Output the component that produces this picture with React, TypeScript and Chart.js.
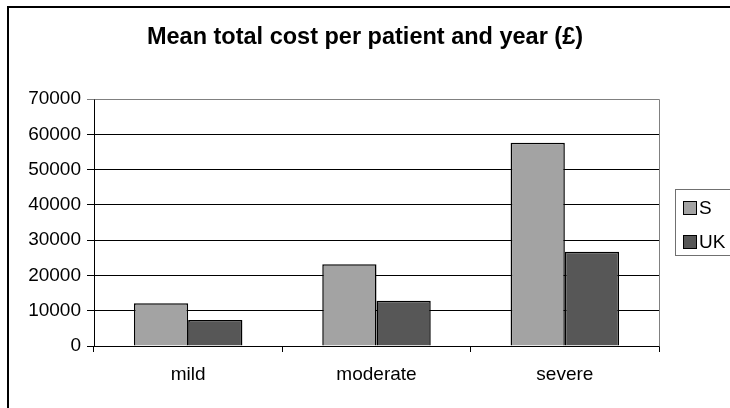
import React, { useEffect, useRef } from "react";
import { Chart, registerables } from "chart.js";

Chart.register(...registerables);

const categories = ["mild", "moderate", "severe"];
const seriesNames = ["S", "UK"];
const sValues = [12100, 23200, 57600];
const ukValues = [7400, 12800, 26700];
const yMax = 70000;
const yStep = 10000;
const titleText = "Mean total cost per patient and year (£)";

const FONT = "'Liberation Sans', Arial, sans-serif";

const decorPlugin = {
  id: "decor",
  beforeDraw(chart: any) {
    const { ctx } = chart;
    ctx.save();
    ctx.fillStyle = "#fff";
    ctx.fillRect(0, 0, chart.width, chart.height);
    ctx.strokeStyle = "#000";
    ctx.lineWidth = 2;
    ctx.strokeRect(8, 7, chart.width + 40, chart.height + 40);
    ctx.restore();
  },
  beforeDatasetsDraw(chart: any) {
    const { ctx, chartArea } = chart;
    ctx.save();
    ctx.strokeStyle = "#808080";
    ctx.lineWidth = 1;
    ctx.beginPath();
    ctx.moveTo(Math.round(chartArea.left) + 0.5, Math.round(chartArea.top) + 0.5);
    ctx.lineTo(Math.round(chartArea.right) + 0.5, Math.round(chartArea.top) + 0.5);
    ctx.lineTo(Math.round(chartArea.right) + 0.5, Math.round(chartArea.bottom) + 0.5);
    ctx.stroke();
    ctx.restore();
  },
  afterDraw(chart: any) {
    const { ctx } = chart;
    ctx.save();
    // title
    ctx.fillStyle = "#000";
    ctx.font = `bold 23.5px ${FONT}`;
    ctx.textAlign = "center";
    ctx.textBaseline = "alphabetic";
    ctx.fillText(titleText, chart.width / 2, 44);
    // legend
    const lx = 675.5;
    const ly = 189.5;
    ctx.strokeStyle = "#707070";
    ctx.lineWidth = 1;
    ctx.strokeRect(lx, ly, 80, 66);
    ctx.font = `19px ${FONT}`;
    ctx.textAlign = "left";
    ctx.textBaseline = "middle";
    chart.data.datasets.forEach((ds: any, i: number) => {
      const sy = 201.5 + i * 34;
      ctx.fillStyle = ds.backgroundColor;
      ctx.fillRect(683.5, sy, 13, 13);
      ctx.strokeStyle = "#000";
      ctx.strokeRect(683.5, sy, 13, 13);
      ctx.fillStyle = "#000";
      ctx.fillText(ds.label, 699, sy + 7);
    });
    ctx.restore();
  },
};

export default function App() {
  const ref = useRef<HTMLCanvasElement | null>(null);
  useEffect(() => {
    if (!ref.current) return;
    const chart = new Chart(ref.current, {
      type: "bar",
      data: {
        labels: categories,
        datasets: [
          {
            label: seriesNames[0],
            data: sValues,
            backgroundColor: "#A3A3A3",
            borderColor: "#000",
            borderWidth: 1.5,
          },
          {
            label: seriesNames[1],
            data: ukValues,
            backgroundColor: "#575757",
            borderColor: "#000",
            borderWidth: 1.5,
          },
        ],
      },
      options: {
        animation: false,
        responsive: false,
        devicePixelRatio: 1,
        layout: { padding: { left: 10, right: 71, top: 99, bottom: 22 } },
        plugins: {
          legend: { display: false },
          title: { display: false },
          tooltip: { enabled: false },
        },
        datasets: {
          bar: { categoryPercentage: 0.576, barPercentage: 1.0 },
        },
        scales: {
          x: {
            afterFit(scale: any) {
              scale.height = 40;
            },
            grid: {
              drawOnChartArea: false,
              drawTicks: true,
              tickLength: 6,
              color: "#000",
              offset: true,
            },
            border: { display: true, color: "#000", width: 1 },
            ticks: {
              color: "#000",
              font: { family: FONT, size: 19 },
              padding: 11,
              maxRotation: 0,
            },
          },
          y: {
            min: 0,
            max: yMax,
            afterFit(scale: any) {
              scale.width = 84;
            },
            grid: {
              color: (c: any) => (c.tick && c.tick.value === yMax ? "#808080" : "#000"),
              lineWidth: 1,
              tickLength: 7,
              drawTicks: true,
            },
            border: { display: true, color: "#000", width: 1 },
            ticks: {
              stepSize: yStep,
              color: "#000",
              font: { family: FONT, size: 19 },
              padding: 6,
              callback: (v: any) => String(v),
            },
          },
        },
      },
      plugins: [decorPlugin],
    });
    return () => chart.destroy();
  }, []);
  return (
    <div
      style={{
        position: "fixed",
        left: 0,
        top: 0,
        width: 730,
        height: 408,
        overflow: "hidden",
        background: "#fff",
      }}
    >
      <canvas ref={ref} width={730} height={408} style={{ display: "block", width: 730, height: 408 }} />
    </div>
  );
}
